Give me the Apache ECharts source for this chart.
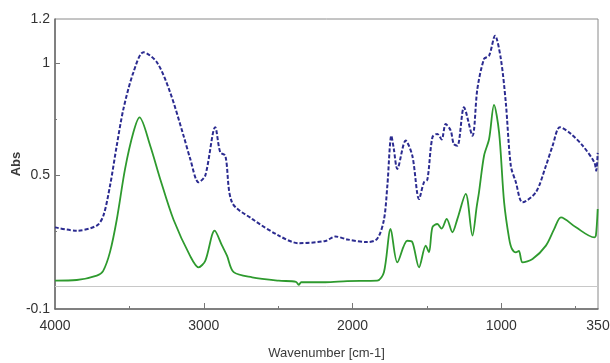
<!DOCTYPE html>
<html><head><meta charset="utf-8">
<script src="https://cdn.jsdelivr.net/npm/echarts@6/dist/echarts.min.js"></script>
<style>html,body{margin:0;padding:0;background:#fff}#c{width:610px;height:363px}</style>
</head><body><div id="c"></div>
<script>
// Wavenumber (cm-1) and absorbance readings
var wnBlue  = [4000,3854,3719,3675,3630,3585,3540,3473,3405,3315,3226,3136,3091,3035,2990,2923,2889,2855,2810,2675,2496,2362,2182,2115,2036,1901,1834,1789,1766,1739,1723,1699,1643,1598,1553,1520,1497,1463,1430,1401,1374,1340,1320,1295,1251,1194,1161,1116,1082,1042,1003,970,936,902,857,768,700,655,606,532,453,375,362,352];
var absBlue = [0.266,0.251,0.274,0.318,0.453,0.632,0.797,0.961,1.051,1.006,0.871,0.677,0.573,0.468,0.498,0.715,0.602,0.587,0.378,0.304,0.229,0.195,0.205,0.225,0.212,0.200,0.215,0.300,0.453,0.677,0.620,0.528,0.655,0.587,0.393,0.468,0.480,0.670,0.685,0.660,0.729,0.700,0.640,0.632,0.804,0.677,0.886,1.021,1.036,1.125,1.021,0.827,0.542,0.468,0.378,0.423,0.542,0.632,0.715,0.685,0.632,0.558,0.520,0.600];
var wnGreen  = [4000,3854,3719,3677,3630,3585,3529,3473,3432,3360,3293,3203,3091,3035,2990,2927,2877,2844,2799,2675,2496,2380,2362,2345,2317,2182,2036,1834,1789,1744,1699,1632,1598,1553,1508,1486,1463,1430,1401,1367,1329,1295,1239,1194,1165,1150,1116,1082,1049,1015,981,947,929,902,882,857,790,700,644,599,498,375,364,352];
var absGreen = [0.027,0.030,0.050,0.070,0.156,0.300,0.528,0.692,0.759,0.632,0.483,0.300,0.137,0.087,0.116,0.251,0.184,0.139,0.065,0.042,0.027,0.022,0.008,0.020,0.020,0.020,0.025,0.027,0.065,0.259,0.109,0.206,0.200,0.087,0.184,0.154,0.266,0.281,0.260,0.304,0.244,0.304,0.416,0.229,0.360,0.423,0.587,0.662,0.815,0.692,0.378,0.214,0.170,0.154,0.160,0.109,0.124,0.184,0.259,0.311,0.266,0.221,0.230,0.348];
var xLabels = [4000,3000,2000,1000,350];
var xMajorTicks = [3000,2000,1000];
var xMinorTicks = [3500,2500,1500,500];
var yLabels = [-0.1,0.5,1,1.2];
var yMajorTicks = [0.5,1];
var yMinorTicks = [0,0.25,0.75];

function pairs(xs, ys){ return xs.map(function(x,i){ return [x, ys[i]]; }); }
var font = 'Liberation Sans, Arial, sans-serif';
var chart = echarts.init(document.getElementById('c'), null, {renderer:'canvas'});
var baseX = {type:'value', min:350, max:4000, inverse:true, splitLine:{show:false}};
var baseY = {type:'value', min:-0.1, max:1.2, splitLine:{show:false}};
chart.setOption({
  animation:false,
  backgroundColor:'#fff',
  grid:{left:55, right:12, top:19, bottom:54, containLabel:false, outerBoundsMode:'none', show:true, borderColor:'#8a8a8a', borderWidth:1},
  xAxis:[
    Object.assign({}, baseX, {
      position:'bottom',
      name:'Wavenumber [cm-1]', nameLocation:'middle', nameGap:38, nameMoveOverlap:false,
      nameTextStyle:{fontFamily:font, fontSize:13, color:'#3a3a3a'},
      axisLine:{show:true, onZero:false, lineStyle:{color:'#6a6a6a', width:1.5}},
      axisTick:{show:true, inside:true, length:6, customValues:xMajorTicks, lineStyle:{color:'#777'}},
      axisLabel:{customValues:xLabels, formatter:function(v){return String(v);}, fontFamily:font, fontSize:14, color:'#333', margin:10, showMinLabel:true, showMaxLabel:true}
    }),
    Object.assign({}, baseX, {
      position:'bottom',
      axisLine:{show:false, onZero:false},
      axisTick:{show:true, inside:true, length:3, customValues:xMinorTicks, lineStyle:{color:'#777'}},
      axisLabel:{show:false}
    })
  ],
  yAxis:[
    Object.assign({}, baseY, {
      position:'left',
      name:'Abs', nameLocation:'middle', nameGap:32, nameRotate:90, nameMoveOverlap:false,
      nameTextStyle:{fontFamily:font, fontSize:13, fontWeight:'bold', color:'#3a3a3a'},
      axisLine:{show:true, onZero:false, lineStyle:{color:'#6a6a6a', width:1.5}},
      axisTick:{show:true, inside:true, length:5, customValues:yMajorTicks, lineStyle:{color:'#777'}},
      axisLabel:{customValues:yLabels, formatter:function(v){return String(v);}, fontFamily:font, fontSize:14, color:'#333', margin:5, showMinLabel:true, showMaxLabel:true}
    }),
    Object.assign({}, baseY, {
      position:'left',
      axisLine:{show:false, onZero:false},
      axisTick:{show:true, inside:true, length:2, customValues:yMinorTicks, lineStyle:{color:'#777'}},
      axisLabel:{show:false}
    })
  ],
  series:[
    {type:'line', xAxisIndex:0, yAxisIndex:0, data:pairs(wnGreen, absGreen), showSymbol:false, smooth:0.3,
     lineStyle:{color:'#2e9a2e', width:1.8}, z:3,
     markLine:{silent:true, symbol:'none', label:{show:false}, lineStyle:{color:'#c8c8c8', width:1, type:'solid'}, data:[{yAxis:0}]}},
    {type:'line', xAxisIndex:0, yAxisIndex:0, data:pairs(wnBlue, absBlue), showSymbol:false, smooth:0.3,
     lineStyle:{color:'#2b2b90', width:2, type:[4,2]}, z:4}
  ]
});
</script></body></html>
